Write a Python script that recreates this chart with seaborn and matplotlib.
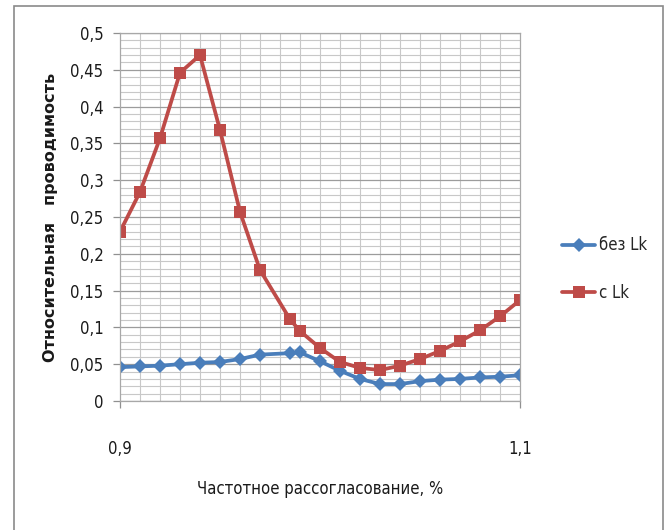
import matplotlib
matplotlib.use("Agg")
import matplotlib.pyplot as plt
from matplotlib.ticker import MultipleLocator, FixedLocator, FuncFormatter
from matplotlib.lines import Line2D
from matplotlib.patches import Rectangle
import pandas as pd
import seaborn as sns

# Frequency detuning (fraction of nominal) and relative conductance of the two variants
detuning = [0.90, 0.91, 0.92, 0.93, 0.94, 0.95, 0.96, 0.97, 0.985, 0.99, 1.00,
            1.01, 1.02, 1.03, 1.04, 1.05, 1.06, 1.07, 1.08, 1.09, 1.10]
without_lk = [0.046, 0.047, 0.048, 0.050, 0.052, 0.053, 0.057, 0.063, 0.065, 0.066, 0.054,
              0.041, 0.030, 0.023, 0.023, 0.027, 0.029, 0.030, 0.032, 0.033, 0.035]
with_lk = [0.230, 0.284, 0.357, 0.446, 0.470, 0.368, 0.257, 0.178, 0.111, 0.095, 0.072,
           0.053, 0.045, 0.042, 0.048, 0.057, 0.068, 0.081, 0.096, 0.115, 0.137]
series_names = ["без Lk", "с Lk"]
y_ticks = [0, 0.05, 0.10, 0.15, 0.20, 0.25, 0.30, 0.35, 0.40, 0.45, 0.50]
x_ticks = [0.9, 1.1]

colors = {"без Lk": "#4a7ebb", "с Lk": "#be4b48"}
markers = {"без Lk": "D", "с Lk": "s"}
marker_sizes = {"без Lk": 7.0, "с Lk": 9.0}

sns.set_theme(style="white")
plt.rcParams["font.family"] = ["DejaVu Sans"]
plt.rcParams["font.stretch"] = "condensed"

df = pd.DataFrame({
    "x": detuning * 2,
    "y": without_lk + with_lk,
    "series": [series_names[0]] * len(detuning) + [series_names[1]] * len(detuning),
})

fig = plt.figure(figsize=(6.7, 5.3), dpi=100)
ax = fig.add_axes([120 / 670, 1 - 401 / 530, 400 / 670, 368 / 530])

sns.lineplot(data=df, x="x", y="y", hue="series", style="series",
             palette=colors, markers=markers, dashes=False, sort=False,
             linewidth=2.7, markeredgewidth=0, legend=False, ax=ax)
for line in ax.lines:
    c = matplotlib.colors.to_hex(line.get_color())
    for name, col in colors.items():
        if c.lower() == col.lower():
            line.set_markersize(marker_sizes[name])

ax.set_xlim(0.9, 1.1)
ax.set_ylim(0, 0.5)
ax.xaxis.set_major_locator(FixedLocator(x_ticks))
ax.xaxis.set_minor_locator(MultipleLocator(0.01))
ax.yaxis.set_major_locator(FixedLocator(y_ticks))
ax.yaxis.set_minor_locator(MultipleLocator(0.01))

comma = FuncFormatter(lambda v, _: f"{round(v, 2):g}".replace(".", ","))
ax.xaxis.set_major_formatter(comma)
ax.yaxis.set_major_formatter(comma)

ax.grid(which="minor", color="#c8c8c8", linewidth=0.8)
ax.grid(which="major", axis="y", color="#9c9c9c", linewidth=0.9)
ax.set_axisbelow(True)
for side in ["left", "bottom", "top", "right"]:
    ax.spines[side].set_color("#a8a8a8")
    ax.spines[side].set_linewidth(0.9)

ax.tick_params(which="minor", length=0)
ax.tick_params(axis="both", which="major", bottom=True, left=True,
               color="#909090", length=5, width=0.9, labelsize=12, labelcolor="#1a1a1a")
ax.tick_params(axis="y", pad=7)
ax.tick_params(axis="x", pad=23)

ax.set_xlabel("Частотное рассогласование, %", fontsize=12, color="#1a1a1a")
ax.xaxis.set_label_coords(0.5, -0.215)
ax.set_ylabel("Относительная   проводимость", fontsize=11.5, fontweight="bold",
              fontstretch="normal", color="#1a1a1a")
ax.yaxis.set_label_coords(-0.155, 0.5)

handles = [Line2D([], [], color=colors[n], marker=markers[n], markersize=marker_sizes[n],
                  markeredgewidth=0, linewidth=2.7) for n in series_names]
ax.legend(handles, series_names, loc="center left", frameon=False,
          bbox_to_anchor=(547 / 670, 1 - 269 / 530), bbox_transform=fig.transFigure,
          fontsize=12, handlelength=2.0, handletextpad=0.2, labelspacing=1.75)

fig.add_artist(Rectangle((14 / 670, -0.1), (663 - 14) / 670, 1 + 0.1 - 6 / 530,
                         transform=fig.transFigure, fill=False,
                         edgecolor="#8a8a8a", linewidth=1.2))

fig.savefig("out.png", dpi=100)
